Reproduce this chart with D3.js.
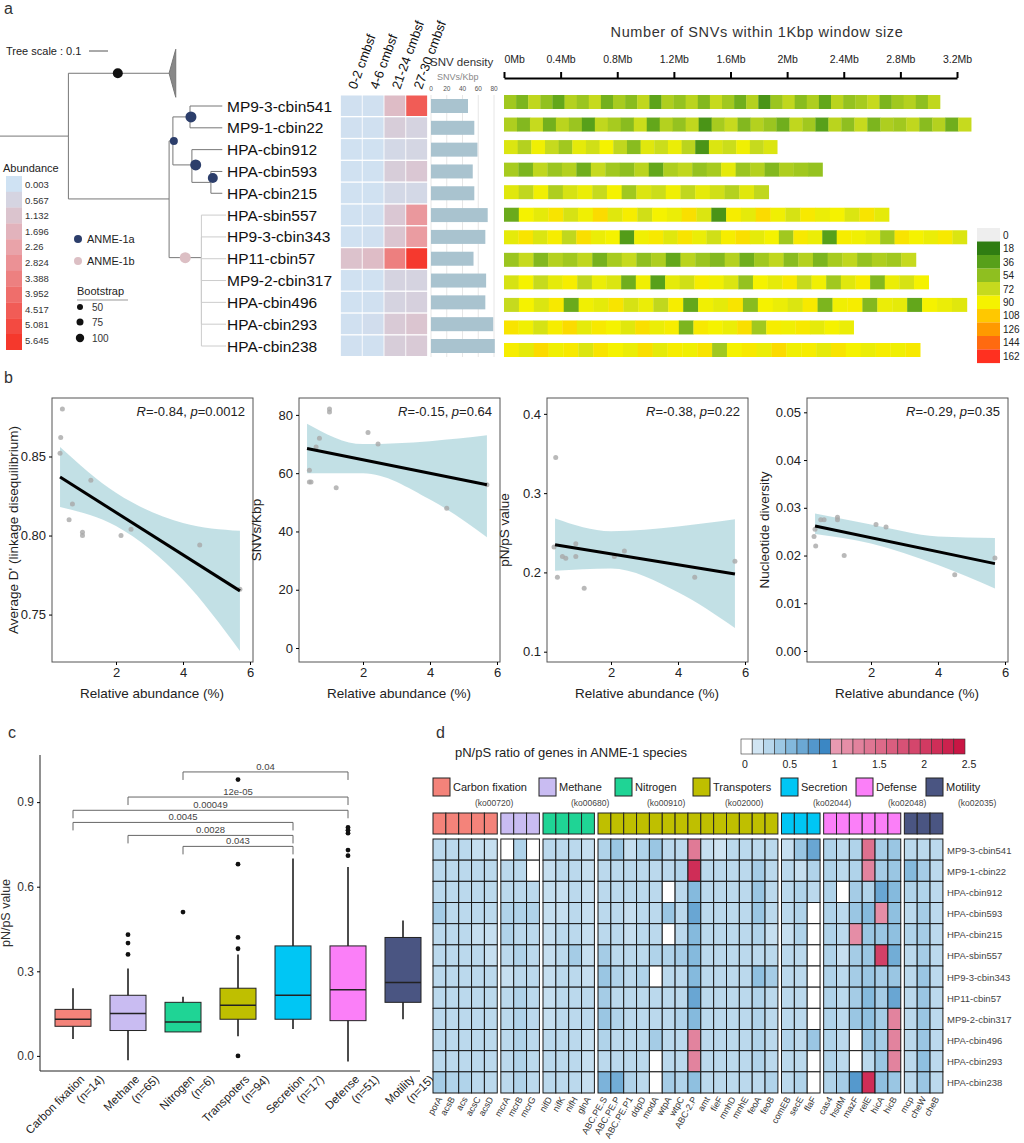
<!DOCTYPE html>
<html><head><meta charset="utf-8">
<script src="https://cdn.jsdelivr.net/npm/d3@7"></script>
<style>body{margin:0;background:#fff}svg{font-family:"Liberation Sans",Arial,sans-serif}</style>
</head><body><svg width="1024" height="1143"></svg>
<script>
// ---------- data ----------
const genomes = ['MP9-3-cbin541','MP9-1-cbin22','HPA-cbin912','HPA-cbin593','HPA-cbin215','HPA-sbin557','HP9-3-cbin343','HP11-cbin57','MP9-2-cbin317','HPA-cbin496','HPA-cbin293','HPA-cbin238'];
const depths = ['0-2 cmbsf','4-6 cmbsf','21-24 cmbsf','27-30 cmbsf'];
const abundance = [
  [0.1,0.1,1.4,4.5],[0.1,0.1,0.8,0.6],[0.05,0.05,0.4,0.5],[0.05,0.05,0.8,1.0],
  [0.05,0.05,0.4,0.4],[0.05,0.1,1.0,2.6],[0.05,0.1,1.1,2.5],[1.2,1.4,3.4,5.6],
  [0.05,0.05,0.6,0.6],[0.05,0.1,0.6,0.7],[0.1,0.2,0.9,1.1],[0.1,0.1,0.8,0.9]];
const abundTicks = ['0.003','0.567','1.132','1.696','2.26','2.824','3.388','3.952','4.517','5.081','5.645'];
const snvDensity = [47,55,59,53,55,72,69,54,70,69,79,81];
const genomeLen = [3.08,3.30,1.93,2.25,1.87,2.72,3.27,2.91,3.0,3.27,2.47,2.94];
const mbTicks = [0,0.4,0.8,1.2,1.6,2,2.4,2.8,3.2];
const snvLegend = [0,18,36,54,72,90,108,126,144,162];
const snvWindows = [
  [60,48,70,55,40,66,58,72,45,62,52,70,38,64,56,68,50,72,60,44,66,30,58,70,52,64,40,68,56,62,72,48,60,66,54,70],
  [64,50,72,45,68,58,36,70,62,52,74,40,66,56,70,30,62,72,50,66,58,44,70,60,36,68,54,72,48,64,60,70,52,66,44,72],
  [80,66,88,72,60,84,76,90,70,52,82,74,86,68,30,80,74,88,72,80],
  [62,48,70,58,66,44,72,60,54,68,40,64,70,56,62,84,58,66,50,64,60,56],
  [82,70,88,64,78,86,72,90,60,80,74,88,70,84,76,66,82,70],
  [42,90,84,96,78,88,100,82,92,76,90,86,98,80,30,92,84,100,88,78,94,86,90,80,96,84],
  [84,96,80,92,70,98,86,90,34,88,94,82,96,86,76,92,98,84,90,60,94,86,36,92,88,84,60,96,90,86,94,80],
  [58,72,50,66,60,70,46,62,72,54,64,40,68,58,50,66,44,60,70,52,66,48,62,70,56,64,60,72],
  [78,90,72,84,92,70,86,80,44,88,36,84,76,92,88,80,56,90,84,94,72,88,60,82,92,50,86,78,90],
  [72,90,80,94,42,88,84,96,78,86,70,92,40,88,84,96,52,90,86,80,94,48,88,92,50,86,84,40,90,86,82],
  [96,88,78,92,100,84,94,90,82,98,86,92,48,94,90,86,98,60,92,88,94,84,90,86],
  [92,84,100,88,94,80,96,90,86,98,84,92,88,96,60,90,94,86,100,88,92,84,96,90,86,92,88,94]];

// panel b
const scatterPanels = [
  {ylab:"Average D' (linkage disequilibrium)", R:'-0.84', p:'0.0012', domain:[0.72,0.887], ticks:[0.75,0.80,0.85], fmt:'.2f',
   px:[0.4,0.35,0.33,0.6,0.7,1.0,1.0,1.25,2.15,2.45,4.5,5.7], py:[0.880,0.862,0.852,0.81,0.82,0.802,0.800,0.835,0.800,0.804,0.794,0.766],
   fit:[0.837,0.765], hi:[0.856,0.827,0.808,0.803], lo:[0.818,0.806,0.772,0.727]},
  {ylab:'SNVs/Kbp', R:'-0.15', p:'0.64', domain:[-4.8,85.8], ticks:[0,20,40,60,80], fmt:'d',
   px:[1.0,1.0,0.7,0.6,0.4,0.4,0.45,1.2,2.15,2.45,4.5,5.7], py:[81,82,72,69,61,57,57,55,74,70,48,56],
   fit:[68.5,56], hi:[77,70,71,73], lo:[60,60,51,38]},
  {ylab:'pN/pS value', R:'-0.38', p:'0.22', domain:[0.087,0.42], ticks:[0.1,0.2,0.3,0.4], fmt:'.1f',
   px:[0.35,0.4,0.3,0.55,0.65,0.95,0.95,1.2,2.1,2.4,4.5,5.7], py:[0.345,0.194,0.232,0.22,0.218,0.236,0.22,0.18,0.22,0.227,0.194,0.214],
   fit:[0.235,0.198], hi:[0.268,0.252,0.258,0.267], lo:[0.202,0.205,0.175,0.13]},
  {ylab:'Nucleotide diversity', R:'-0.29', p:'0.35', domain:[-0.0023,0.053], ticks:[0,0.01,0.02,0.03,0.04,0.05], fmt:'.2f',
   px:[0.3,0.35,0.5,0.6,1.0,1.0,1.2,2.15,2.45,4.5,5.7,0.33], py:[0.024,0.022,0.0275,0.0275,0.028,0.0275,0.020,0.0265,0.026,0.016,0.0195,0.0255],
   fit:[0.0262,0.0183], hi:[0.0288,0.0265,0.024,0.0237], lo:[0.0245,0.0225,0.018,0.0131]}];
const bandX = [0.33,2,4,5.7];

// panel c
const boxCats = ['Carbon fixation','Methane','Nitrogen','Transpoters','Secretion','Defense','Motility'];
const boxN = [14,65,6,94,17,51,15];
const boxStats = [ // [whiskerLo, q1, median, q3, whiskerHi]
  [0.06,0.105,0.13,0.165,0.24],[-0.015,0.09,0.15,0.215,0.31],[0.085,0.085,0.12,0.19,0.21],
  [0.07,0.13,0.18,0.24,0.36],[0.095,0.13,0.215,0.39,0.70],[-0.02,0.125,0.235,0.39,0.67],[0.13,0.19,0.26,0.42,0.48]];
const boxOutliers = [[],[0.36,0.40,0.43],[0.51],[0.0,0.38,0.42,0.68,0.98],[],[0.71,0.73,0.79,0.80,0.81],[]];
const groupColors = ['#f4837a','#c9bcf2','#1fd495','#bfbf00','#00c6f4','#fb7ff8','#4a5582'];
const brackets = [[2,5,'0.04',1.007],[1,5,'12e-05',0.918],[0,5,'0.00049',0.871],[0,4,'0.0045',0.828],[1,4,'0.0028',0.782],[2,4,'0.043',0.743]];

// panel d
const geneGroups = ['Carbon fixation','Methane','Nitrogen','Transpoters','Secretion','Defense','Motility'];
const koCodes = ['(ko00720)','(ko00680)','(ko00910)','(ko02000)','(ko02044)','(ko02048)','(ko02035)'];
const genes = [
  ['porA','acsB','acs','acsC','acsD'],['mcrA','mcrB','mcrG'],['nifD','nifK','nifH','glnA'],
  ['ABC.PE.S','ABC.PE.P','ABC.PE.P1','ddpD','modA','wtpA','wtpC','ABC-2.P','amt','fieF','mnhD','mnhE','feoA','feoB'],
  ['comEB','secE','flaF'],['cas4','hsdM','mazF','relE','hicA','hicB'],['mcp','cheW','cheB']];
const pnps = [
  [.3,.3,.3,.25,.25, 0,.35,0, .3,.3,.3,.25, .35,.45,.25,.35,.45,.3,.3,1.4,.25,.2,.3,.3,.3,.3, .25,.45,.7, .35,.3,.35,1.5,.4,.45, .3,.3,.3],
  [.3,.3,.3,.3,.3, .3,.3,0, .25,.3,.3,.25, .3,.3,.3,.3,.3,.3,.35,2.2,.3,.3,.3,.3,.4,.3, .3,.25,.35, .35,.3,.35,1.3,.4,.45, .55,.4,.3],
  [.3,.3,.3,.3,.3, .3,.3,.3, .25,.25,.3,.25, .3,.3,.3,.3,.3,0,.3,.55,.3,.3,.3,.3,.45,.3, .3,.35,.3, .35,0,.4,.35,.7,.55, .35,.35,.3],
  [.4,.3,.3,.3,.3, .35,.35,.35, .25,.25,.3,.25, .3,.3,.25,.3,.3,.45,.3,.7,.3,.3,.3,.3,.45,.3, .3,.35,0, .35,.3,.45,.55,1.2,.5, .3,.4,.3],
  [.3,.3,.3,.25,.25, .35,.3,.3, .25,.3,.3,.25, .3,.3,.25,.3,.3,0,.3,.55,.3,.3,.3,.3,.35,.25, .25,.35,0, .35,.3,1.2,.45,.45,.5, .35,.4,.3],
  [.3,.3,.3,.3,.25, .3,.35,.3, .25,.3,.4,.25, .4,.3,.3,.3,.35,.35,.4,.55,.3,.3,.3,.3,.3,.3, .3,.3,0, .35,.25,.4,.45,2.0,.65, .3,.4,.3],
  [.3,.3,.3,.3,.3, .25,.3,.3, .25,.3,.3,.25, .45,.35,.3,.35,0,.3,.3,.55,.3,.3,.3,.3,.5,.4, .3,.3,0, .35,.3,.4,.45,.4,.45, .3,.45,.3],
  [.3,.3,.3,.3,.3, .3,.35,.3, .25,.3,.3,.3, .4,.3,.3,.3,.3,.3,.3,.7,.3,.3,.3,.3,.35,.3, .3,.3,0, .35,.3,.4,.55,.4,.7, .3,.45,.3],
  [.3,.3,.3,.3,.3, .3,.35,.3, .25,.3,.3,.3, .45,.35,.3,.3,.3,.3,.35,.55,.3,.3,.3,.3,.35,.3, .3,.3,0, .35,.3,.45,.5,.4,1.3, .3,.45,.3],
  [.3,.3,.3,.3,.3, .3,.35,.3, .3,.3,.3,.25, .35,.3,.3,.3,.4,.3,.3,1.3,.3,.3,.3,.3,.35,.3, .35,.3,.45, .35,.3,0,.45,.4,1.3, .3,.45,.3],
  [.3,.3,.3,.3,.3, .3,.35,.3, .3,.3,.3,.25, .3,.3,.3,.3,0,.3,.3,1.3,.3,.3,.3,.3,.35,.3, .3,.3,0, .35,.3,0,.3,.45,1.3, .3,.5,.3],
  [.4,.35,.35,.3,.3, .3,.35,.3, .3,.3,.3,.25, .6,.65,.35,.3,0,.4,.35,.5,.3,.3,.3,.3,.3,.35, .3,.35,0, .35,.4,.8,2.2,.5,.45, .3,.45,.3]];
const pnpsTicks = [0,0.5,1,1.5,2,2.5];

// ---------- drawing ----------
const svg = d3.select('svg');
const txt = (g,x,y,s,size,opt={}) => g.append('text').attr('x',x).attr('y',y).text(s).attr('font-size',size)
  .attr('fill',opt.fill||'#222').attr('text-anchor',opt.anchor||'start').attr('font-style',opt.italic?'italic':null);
[['a',4,14],['b',4,383],['c',8,738],['d',436,738]].forEach(d=>txt(svg,d[1],d[2],d[0],16,{fill:'#333'}));

// ---- panel a: tree ----
const rowY = d3.scaleLinear().domain([0,11]).range([106,346]);
const tx = d3.scaleLinear().domain([0,1]).range([0,190]);
const tree = svg.append('g').attr('stroke','#777').attr('fill','none');
const nodes = {R:[0.36,1.38],C:[0.89,-1.5],L:[0.89,4.26],A:[0.91,1.6],A1:[1.0,0.5],A2:[1.01,2.7],A3:[1.11,3.5],B:[1.06,6.95]};
const leafD = 1.17;
const edges = [['R','C'],['R','L'],['L','A'],['L','B'],['A','A1'],['A','A2'],['A2','A3']];
const leafParent = ['A1','A1','A2','A3','A3','B','B','B','B','B','B','B'];
const elbow = (p,c) => `M${tx(p[0])},${rowY(p[1])}V${rowY(c[1])}H${tx(c[0])}`;
tree.append('path').attr('d',`M0,${rowY(nodes.R[1])}H${tx(nodes.R[0])}`);
edges.forEach(e=>tree.append('path').attr('d',elbow(nodes[e[0]],nodes[e[1]])));
leafParent.forEach((p,i)=>tree.append('path').attr('d',elbow(nodes[p],[p==='B'?leafD+0.02:leafD,i]))
  .attr('stroke',p==='B'?'#ccc':'#777'));
tree.append('path').attr('d',`M${tx(0.89)},${rowY(-1.5)}L${tx(0.925)},${rowY(-2.6)}L${tx(0.925)},${rowY(-0.4)}Z`).attr('fill','#888');
[[0.62,-1.5,5,'#111'],[0.915,1.6,4,'#2c3e6b'],[1.005,0.5,5.5,'#2c3e6b'],[1.03,2.7,5.5,'#2c3e6b'],[1.12,3.3,5,'#2c3e6b'],[0.975,6.95,5.5,'#dcbfc4']]
  .forEach(d=>svg.append('circle').attr('cx',tx(d[0])).attr('cy',rowY(d[1])).attr('r',d[2]).attr('fill',d[3]));
txt(svg,6,55,'Tree scale : 0.1',11);
svg.append('line').attr('x1',89).attr('x2',89+tx(0.1)).attr('y1',51).attr('y2',51).attr('stroke','#555');
genomes.forEach((g,i)=>txt(svg,227,rowY(i)+5.5,g,15.5,{fill:'#111'}));

// abundance heatmap
const abColor = d3.scaleLinear().domain([0,0.6,2.3,5.645]).range(['#cfe2f3','#d5d3e0','#e9a2a8','#f5382c']);
const hx = d3.scaleBand().domain(depths).range([340,428]).padding(0.04);
depths.forEach((d,j)=>{
  genomes.forEach((g,i)=>svg.append('rect').attr('x',hx(d)).attr('y',rowY(i)-10.5).attr('width',hx.bandwidth()).attr('height',20.5).attr('fill',abColor(abundance[i][j])));
  svg.append('text').attr('transform',`translate(${hx(d)+hx.bandwidth()/2+5},90) rotate(-70)`).text(d).attr('font-size',13).attr('fill','#111');
});
// abundance legend
txt(svg,3,172,'Abundance',11);
abundTicks.forEach((t,i)=>{
  svg.append('rect').attr('x',6).attr('y',176+i*15.8).attr('width',16).attr('height',16).attr('fill',abColor(+t));
  txt(svg,25,188+i*15.6,t,9.5,{fill:'#333'});
});
[['ANME-1a','#2c3e6b',239],['ANME-1b','#dcbfc4',261]].forEach(d=>{
  svg.append('circle').attr('cx',78).attr('cy',d[2]).attr('r',4).attr('fill',d[1]);
  txt(svg,87,d[2]+4,d[0],11);
});
txt(svg,77,295,'Bootstrap',11);
svg.append('line').attr('x1',77).attr('x2',128).attr('y1',300).attr('y2',300).attr('stroke','#999');
[[50,307,3],[75,322,3.5],[100,338,4.2]].forEach(d=>{svg.append('circle').attr('cx',80).attr('cy',d[1]).attr('r',d[2]).attr('fill','#111');txt(svg,92,d[1]+4,d[0],10,{fill:'#333'});});

// SNV density bars
const sx = d3.scaleLinear().domain([0,80]).range([431,494]);
txt(svg,430,66,'SNV density',11.5,{fill:'#333'});
txt(svg,437,80,'SNVs/Kbp',9,{fill:'#888'});
[0,20,40,60,80].forEach(t=>{
  txt(svg,sx(t),91,t,6.5,{anchor:'middle',fill:'#555'});
  svg.append('line').attr('x1',sx(t)).attr('x2',sx(t)).attr('y1',95).attr('y2',357).attr('stroke','#e6e6e6');
});
snvDensity.forEach((v,i)=>svg.append('rect').attr('x',sx(0)).attr('y',rowY(i)-7).attr('width',sx(v)-sx(0)).attr('height',14).attr('fill','#a9c3cf'));

// SNV genome tracks
const mx = d3.scaleLinear().domain([0,3.2]).range([504,957]);
const trackY = d3.scaleLinear().domain([0,11]).range([102,350]);
const snvColor = d3.scaleLinear().domain([0,10,18,36,54,72,90,108,126,144,162])
  .range(['#eeeeee','#2f7d12','#2f7d12','#57a01a','#8fbf20','#c6da1e','#f5f200','#ffc800','#ff9a00','#ff6a10','#ff3020']);
svg.append('text').attr('x',757).attr('y',37).attr('text-anchor','middle').attr('font-size',14.5).attr('letter-spacing',0.6).attr('fill','#333').text('Number of SNVs within 1Kbp window size');
const axA = svg.append('g').attr('transform','translate(0,78)')
  .call(d3.axisTop(mx).tickValues(mbTicks).tickFormat(d=>d+'Mb').tickSize(6).tickSizeOuter(0));
axA.select('.domain').attr('stroke-width',2.2);
axA.selectAll('.tick line').attr('stroke-width',2);
axA.selectAll('text').attr('font-size',10.5).attr('fill','#222').attr('dy',-6);
axA.select('.tick:first-of-type text').attr('text-anchor','start');
snvWindows.forEach((w,i)=>{
  const step = genomeLen[i]/w.length;
  w.forEach((v,k)=>svg.append('rect').attr('x',mx(k*step)).attr('y',trackY(i)-7).attr('width',mx(step)-mx(0)+0.3).attr('height',14).attr('fill',snvColor(v)));
});
snvLegend.forEach((v,i)=>{
  svg.append('rect').attr('x',977).attr('y',228+i*13.5).attr('width',23).attr('height',13.6).attr('fill',snvColor(v));
  txt(svg,1003,239+i*13.4,v,10,{fill:'#222'});
});

// ---- panel b ----
const bLeft = [52,299,547,807];
const bx0 = d3.scaleLinear().domain([0.09,6.09]);
scatterPanels.forEach((P,k)=>{
  const g = svg.append('g');
  const x = bx0.copy().range([bLeft[k],bLeft[k]+201]);
  const y = d3.scaleLinear().domain(P.domain).range([662,398]);
  const area = d3.area().curve(d3.curveMonotoneX).x((d,i)=>x(bandX[i])).y0((d,i)=>y(P.lo[i])).y1(d=>y(d));
  g.append('path').attr('d',area(P.hi)).attr('fill','#b7dbe0').attr('opacity',0.85);
  g.selectAll('circle.pt').data(P.px).join('circle').attr('cx',d=>x(d)).attr('cy',(d,i)=>y(P.py[i])).attr('r',2.5).attr('fill','#a8a8a8').attr('opacity',0.8);
  g.append('line').attr('x1',x(0.33)).attr('x2',x(5.7)).attr('y1',y(P.fit[0])).attr('y2',y(P.fit[1])).attr('stroke','#000').attr('stroke-width',3);
  g.append('rect').attr('x',x.range()[0]).attr('y',398).attr('width',201).attr('height',264).attr('fill','none').attr('stroke','#555');
  const ay = g.append('g').attr('transform',`translate(${x.range()[0]},0)`).call(d3.axisLeft(y).tickValues(P.ticks).tickFormat(d3.format(P.fmt)).tickSize(3).tickSizeOuter(0));
  ay.select('.domain').remove(); ay.selectAll('text').attr('font-size',13).attr('fill','#222');
  const ax = g.append('g').attr('transform','translate(0,662)').call(d3.axisBottom(x).tickValues([2,4,6]).tickFormat(d3.format('d')).tickSize(3).tickSizeOuter(0));
  ax.select('.domain').remove(); ax.selectAll('text').attr('font-size',13).attr('fill','#222');
  txt(g,x.range()[0]+100,698,'Relative abundance (%)',13.5,{anchor:'middle'});
  g.append('text').attr('transform',`translate(${x.range()[0]-(k===0?34:38)},530) rotate(-90)`).attr('text-anchor','middle').attr('font-size',13.5).attr('fill','#222').text(P.ylab);
  const t = g.append('text').attr('x',x.range()[1]-8).attr('y',416).attr('text-anchor','end').attr('font-size',13).attr('fill','#222');
  t.append('tspan').attr('font-style','italic').text('R'); t.append('tspan').text('='+P.R+', ');
  t.append('tspan').attr('font-style','italic').text('p'); t.append('tspan').text('='+P.p);
});

// ---- panel c ----
const cy = d3.scaleLinear().domain([-0.05,1.06]).range([1070,757]);
const cx = d3.scalePoint().domain(boxCats).range([73,403]);
const gc = svg.append('g');
const cAx = gc.append('g').attr('transform','translate(40,0)').call(d3.axisLeft(cy).tickValues([0,0.3,0.6,0.9]).tickFormat(d3.format('.1f')).tickSize(3).tickSizeOuter(0));
cAx.selectAll('text').attr('font-size',12).attr('fill','#333');
cAx.select('.domain').attr('d','M0,755V1071').attr('stroke','#222');
gc.append('line').attr('x1',40).attr('x2',420).attr('y1',1071).attr('y2',1071).attr('stroke','#222');
gc.append('text').attr('transform','translate(10,913) rotate(-90)').attr('text-anchor','middle').attr('font-size',12.5).attr('fill','#333').text('pN/pS value');
boxCats.forEach((c,i)=>{
  const s = boxStats[i], x = cx(c);
  gc.append('line').attr('x1',x).attr('x2',x).attr('y1',cy(s[0])).attr('y2',cy(s[4])).attr('stroke','#111').attr('stroke-width',1.5);
  gc.append('rect').attr('x',x-18).attr('y',cy(s[3])).attr('width',36).attr('height',cy(s[1])-cy(s[3])).attr('fill',groupColors[i]).attr('stroke','#222');
  gc.append('line').attr('x1',x-18).attr('x2',x+18).attr('y1',cy(s[2])).attr('y2',cy(s[2])).attr('stroke','#222').attr('stroke-width',1.5);
  boxOutliers[i].forEach(o=>gc.append('circle').attr('cx',x).attr('cy',cy(o)).attr('r',2.4).attr('fill','#111'));
  const lab = gc.append('text').attr('transform',`translate(${x+12},1080) rotate(-45)`).attr('text-anchor','end').attr('font-size',11.5).attr('fill','#222');
  lab.append('tspan').attr('x',0).attr('dy',0).text(c);
  lab.append('tspan').attr('x',0).attr('dy',14).attr('dx',14).text(`(n=${boxN[i]})`);
});
brackets.forEach(b=>{
  const x1 = cx(boxCats[b[0]]), x2 = cx(boxCats[b[1]]), y = cy(b[3]);
  gc.append('path').attr('d',`M${x1},${y+8}V${y}H${x2}V${y+8}`).attr('fill','none').attr('stroke','#666');
  txt(gc,(x1+x2)/2,y-2,b[2],9.5,{anchor:'middle',fill:'#444'});
});

// ---- panel d ----
const gd = svg.append('g');
const cellW = 12.85, gap = 3.6, dx0 = 433;
const cols = [];
genes.forEach((gs,gi)=>gs.forEach(n=>cols.push({n,gi})));
const colX = cols.map((c,i)=>dx0+i*cellW+c.gi*gap);
const dy = d3.scaleBand().domain(genomes).range([839,1093]);
const pnColor = v => v===0 ? '#ffffff' : (v<=1 ? d3.scaleLinear().domain([0,0.25,0.5,1]).range(['#f2f7fc','#c6dff0','#8fc0e0','#2f7fc0'])(v)
  : d3.scaleLinear().domain([1,2.5]).range(['#e9a0b6','#c8103f'])(v));
txt(gd,455,757,'pN/pS ratio of genes in ANME-1 species',13,{fill:'#222'});
const cbx = d3.scaleLinear().domain([0,2.5]).range([745,969]);
d3.range(0,2.5,0.125).forEach(v=>gd.append('rect').attr('x',cbx(v)-4).attr('y',739).attr('width',cbx(0.125)-cbx(0)).attr('height',15)
  .attr('fill',pnColor(v===0?0:v+0.0625)).attr('stroke','#333').attr('stroke-width',0.6));
pnpsTicks.forEach(t=>txt(gd,cbx(t),768,t,10.5,{anchor:'middle',fill:'#222'}));
const legX = [433,539,615,693,781,856,926];
geneGroups.forEach((g,i)=>{
  gd.append('rect').attr('x',legX[i]).attr('y',778).attr('width',17).attr('height',18).attr('fill',groupColors[i]).attr('stroke','#222');
  txt(gd,legX[i]+20,791,g,11);
  txt(gd,legX[i]+20+ (i===0?22:12),806,koCodes[i],8.5,{fill:'#444'});
});
cols.forEach((c,j)=>{
  gd.append('rect').attr('x',colX[j]).attr('y',813).attr('width',cellW).attr('height',21).attr('fill',groupColors[c.gi]).attr('stroke','#222').attr('stroke-width',1);
  genomes.forEach((g,i)=>gd.append('rect').attr('x',colX[j]).attr('y',dy(g)).attr('width',cellW).attr('height',dy.bandwidth()).attr('fill',pnColor(pnps[i][j])).attr('stroke','#1a1a1a').attr('stroke-width',1));
  gd.append('text').attr('transform',`translate(${colX[j]+cellW/2+3},1099) rotate(-60)`).attr('text-anchor','end').attr('font-size',9).attr('fill','#333').text(c.n);
});
genomes.forEach(g=>txt(gd,947,dy(g)+dy.bandwidth()/2+4,g,9.5,{fill:'#444'}));
</script></body></html>
